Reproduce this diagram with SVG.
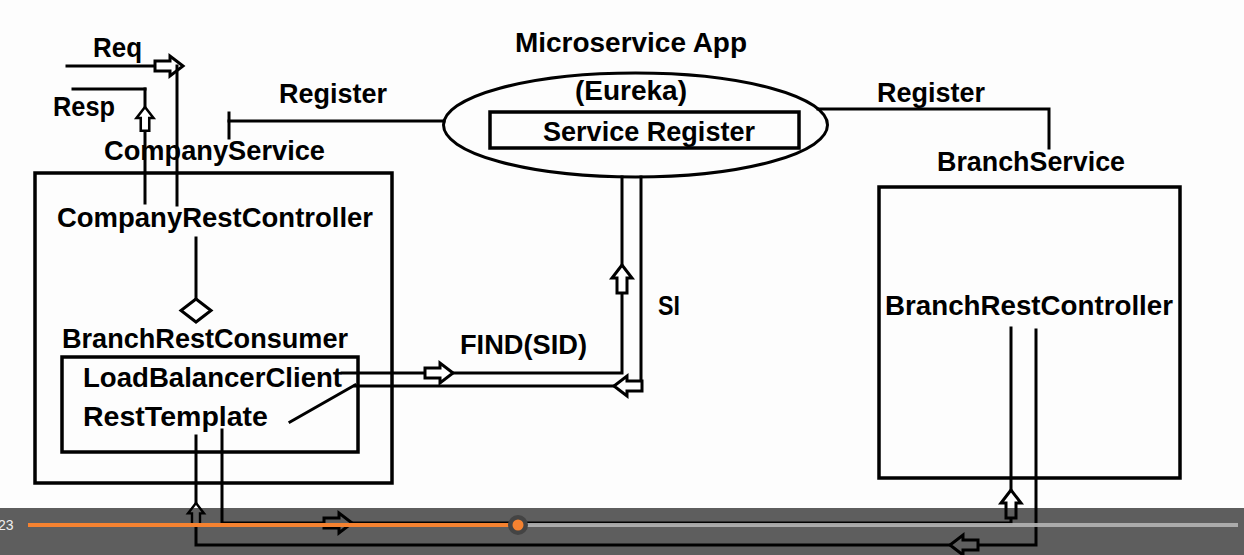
<svg xmlns="http://www.w3.org/2000/svg" width="1244" height="555" viewBox="0 0 1244 555">
<style>
.t{font-family:"Liberation Sans",Arial,sans-serif;font-weight:bold;font-size:28px;fill:#000}
.ln{fill:none;stroke:#000;stroke-width:3;stroke-linecap:square}
.bx{fill:none;stroke:#000;stroke-width:3.5}
.ar{fill:#fff;stroke:#000;stroke-width:3;stroke-linejoin:miter}
</style>
<defs>
<polygon id="arr" class="ar" points="0,0 -13,-10 -13,-5 -28,-5 -28,5 -13,5 -13,10"/>
</defs>
<rect x="0" y="0" width="1244" height="555" fill="#fdfdfd"/>

<g id="connectors">
  <!-- Req / Resp -->
  <line class="ln" x1="67" y1="66" x2="156" y2="66"/>
  <use href="#arr" transform="translate(183,66)"/>
  <line class="ln" x1="177" y1="66" x2="177" y2="205"/>
  <line class="ln" x1="73" y1="89" x2="145" y2="89"/>
  <line class="ln" x1="145" y1="89" x2="145" y2="203"/>
  <use href="#arr" transform="translate(145,107) rotate(-90) scale(0.85)"/>
  <!-- Register left -->
  <line class="ln" x1="229" y1="121" x2="444" y2="121"/>
  <line class="ln" x1="229" y1="113" x2="229" y2="138"/>
  <!-- Register right -->
  <polyline class="ln" points="818,109 1049,109 1049,148"/>
  <!-- controller to consumer -->
  <line class="ln" x1="196" y1="238" x2="196" y2="299"/>
  <polygon class="ar" points="196,299 211,310.5 196,322 181,310.5"/>
  <!-- FIND(SID) -->
  <polyline class="ln" points="342,373 622,373 622,177"/>
  <use href="#arr" transform="translate(453,373)"/>
  <use href="#arr" transform="translate(622,265) rotate(-90)"/>
  <!-- SI return -->
  <polyline class="ln" points="355,386 641,386 641,177"/>
  <line class="ln" x1="290" y1="422" x2="355" y2="385"/>
  <use href="#arr" transform="translate(614,386) rotate(180)"/>
  <!-- RestTemplate to BranchRestController -->
  <polyline class="ln" points="222,430 222,523 1011,523 1011,328"/>
  <use href="#arr" transform="translate(352,523)"/>
  <use href="#arr" transform="translate(1011,490) rotate(-90)"/>
  <!-- response back -->
  <polyline class="ln" points="1036,330 1036,545 196,545 196,436"/>
  <use href="#arr" transform="translate(950,545) rotate(180)"/>
  <use href="#arr" transform="translate(196,503) rotate(-90) scale(0.8)"/>
</g>

<g id="labels">
  <text class="t" x="93" y="57" textLength="49" lengthAdjust="spacingAndGlyphs">Req</text>
  <text class="t" x="53" y="116" textLength="62" lengthAdjust="spacingAndGlyphs">Resp</text>
  <text class="t" x="279" y="103" textLength="108" lengthAdjust="spacingAndGlyphs">Register</text>
  <text class="t" x="877" y="102" textLength="108" lengthAdjust="spacingAndGlyphs">Register</text>
  <text class="t" x="460" y="354" textLength="127" lengthAdjust="spacingAndGlyphs">FIND(SID)</text>
  <text class="t" x="658" y="315" textLength="22" lengthAdjust="spacingAndGlyphs">SI</text>
</g>

<g id="companyService">
  <text class="t" x="104" y="160" textLength="221" lengthAdjust="spacingAndGlyphs">CompanyService</text>
  <rect class="bx" x="35" y="173" width="357" height="310"/>
  <text class="t" x="57" y="227" textLength="316" lengthAdjust="spacingAndGlyphs">CompanyRestController</text>
</g>

<g id="branchRestConsumer">
  <text class="t" x="62" y="348" textLength="286" lengthAdjust="spacingAndGlyphs">BranchRestConsumer</text>
  <rect class="bx" x="62" y="357" width="296" height="95"/>
  <text class="t" x="83" y="387" textLength="259" lengthAdjust="spacingAndGlyphs">LoadBalancerClient</text>
  <text class="t" x="83" y="426" textLength="185" lengthAdjust="spacingAndGlyphs">RestTemplate</text>
</g>

<g id="eureka">
  <text class="t" x="515" y="52" textLength="232" lengthAdjust="spacingAndGlyphs">Microservice App</text>
  <ellipse cx="635.5" cy="125" rx="192" ry="52" fill="none" stroke="#000" stroke-width="3"/>
  <text class="t" x="575" y="100" textLength="112" lengthAdjust="spacingAndGlyphs">(Eureka)</text>
  <rect class="bx" x="490" y="112" width="309" height="36"/>
  <text class="t" x="543" y="141" textLength="212" lengthAdjust="spacingAndGlyphs">Service Register</text>
</g>

<g id="branchService">
  <text class="t" x="937" y="171" textLength="188" lengthAdjust="spacingAndGlyphs">BranchService</text>
  <rect class="bx" x="879" y="187" width="301" height="291"/>
  <text class="t" x="885" y="315" textLength="288" lengthAdjust="spacingAndGlyphs">BranchRestController</text>
</g>

<g id="playerBar">
  <rect x="0" y="508" width="1244" height="47" fill="#000" fill-opacity="0.627"/>
  <text x="-2" y="530" font-family="Liberation Sans, Arial, sans-serif" font-size="14" fill="#eeeeee">23</text>
  <line x1="518" y1="525" x2="1238" y2="525" stroke="#b4b4b4" stroke-width="4" stroke-opacity="0.9"/>
  <line x1="28" y1="525" x2="518" y2="525" stroke="#f58230" stroke-width="4"/>
  <circle cx="518" cy="525" r="10" fill="#444"/>
  <circle cx="518" cy="525" r="5.5" fill="#f58230"/>
</g>
</svg>
